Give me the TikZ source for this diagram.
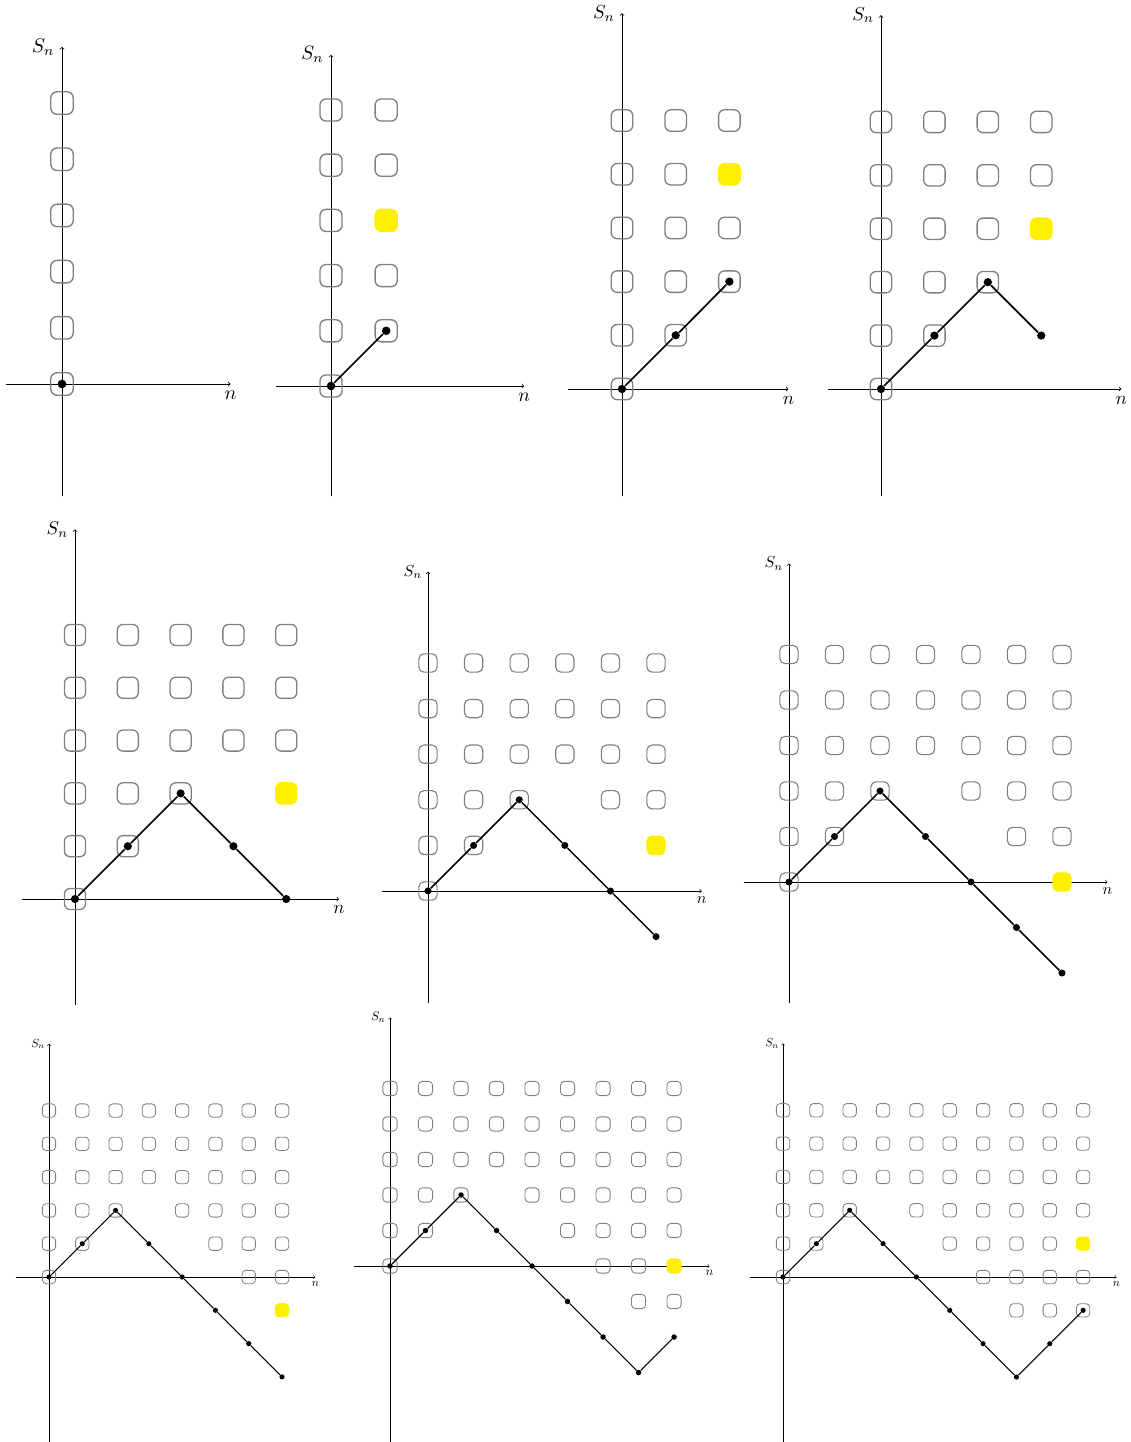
\documentclass[tikz,border=0pt]{standalone}
\definecolor{ylw}{RGB}{255,240,0}
\tikzset{
  axisline/.style={->, line width=0.4pt*\f},
  gbox/.style={draw=gray, rounded corners=1.1mm*\f, minimum size=0.4cm, inner sep=0pt, line width=0.7pt*\f},
  ybox/.style={fill=ylw, draw=ylw, rounded corners=1.1mm*\f, minimum size=0.4cm, inner sep=0pt, line width=0.7pt*\f},
  dot/.style={circle, fill=black, minimum size=4.4pt, inner sep=0pt},
  walkline/.style={line width=0.9pt*\f},
  panel/.style={transform shape}
}
\newcommand{\bcol}[3]{\foreach \h in {#3} {\node[gbox] (#1-#2-\h) at (#2,\h) {};}}
\newcommand{\ybx}[3]{\node[ybox] (#1-y) at (#2,#3) {};}
\newcommand{\walkdots}[2]{\foreach \h [count=\i from 0] in {#2} {\node[dot] (#1d\i) at (\i,\h) {};}}
\newcommand{\axes}[5]{%
  \draw[axisline] (-1,0) -- (#2,0) node[below] (#1n) {$n$};
  \draw[axisline] (0,#3) -- (0,#4) node[left] (#1s) {$S_n$};}
\begin{document}
\begin{tikzpicture}
\useasboundingbox (0,0) rectangle (1131pt,-1442pt);

% Panel 1
\def\f{1.975}
\begin{scope}[shift={(62pt,-384pt)}, scale=\f, panel]
\axes{a}{3}{-2}{6}{}
\bcol{a}{0}{0,...,5}
\walkdots{a}{0}
\end{scope}

% Panel 2
\def\f{1.940}
\begin{scope}[shift={(331pt,-386pt)}, scale=\f, panel]
\axes{b}{3.5}{-2}{6}{}
\bcol{b}{0}{0,...,5}
\bcol{b}{1}{1,2,4,5}
\ybx{b}{1}{3}
\walkdots{b}{0,1}
\draw[walkline] (bd0) -- (bd1);
\end{scope}

% Panel 3
\def\f{1.887}
\begin{scope}[shift={(622pt,-389pt)}, scale=\f, panel]
\axes{c}{3.1}{-2}{7}{}
\bcol{c}{0}{0,...,5}
\bcol{c}{1}{1,...,5}
\bcol{c}{2}{2,3,5}
\ybx{c}{2}{4}
\walkdots{c}{0,1,2}
\draw[walkline] (cd0) -- (cd1) -- (cd2);
\end{scope}

% Panel 4
\def\f{1.877}
\begin{scope}[shift={(881pt,-389pt)}, scale=\f, panel]
\axes{d}{4.5}{-2}{7}{}
\bcol{d}{0}{0,...,5}
\bcol{d}{1}{1,...,5}
\bcol{d}{2}{2,...,5}
\bcol{d}{3}{4,5}
\ybx{d}{3}{3}
\walkdots{d}{0,1,2,1}
\draw[walkline] (dd0) -- (dd1) -- (dd2) -- (dd3);
\end{scope}

% Panel 5
\def\f{1.856}
\begin{scope}[shift={(75pt,-899pt)}, scale=\f, panel]
\axes{e}{5}{-2}{7}{}
\bcol{e}{0}{0,...,5}
\bcol{e}{1}{1,...,5}
\bcol{e}{2}{2,...,5}
\bcol{e}{3}{3,4,5}
\bcol{e}{4}{3,4,5}
\ybx{e}{4}{2}
\walkdots{e}{0,1,2,1,0}
\draw[walkline] (ed0) -- (ed1) -- (ed2) -- (ed3) -- (ed4);
\end{scope}

% Panel 6
\def\f{1.603}
\begin{scope}[shift={(428pt,-891pt)}, scale=\f, panel]
\axes{g}{6}{-2.46}{7}{}
\bcol{g}{0}{0,...,5}
\bcol{g}{1}{1,...,5}
\bcol{g}{2}{2,...,5}
\bcol{g}{3}{3,4,5}
\bcol{g}{4}{2,...,5}
\bcol{g}{5}{2,...,5}
\ybx{g}{5}{1}
\walkdots{g}{0,1,2,1,0,-1}
\draw[walkline] (gd0) -- (gd1) -- (gd2) -- (gd3) -- (gd4) -- (gd5);
\end{scope}

% Panel 7
\def\f{1.599}
\begin{scope}[shift={(789pt,-882pt)}, scale=\f, panel]
\axes{h}{7}{-2.65}{7}{}
\bcol{h}{0}{0,...,5}
\bcol{h}{1}{1,...,5}
\bcol{h}{2}{2,...,5}
\bcol{h}{3}{3,4,5}
\bcol{h}{4}{2,...,5}
\bcol{h}{5}{1,...,5}
\bcol{h}{6}{1,...,5}
\ybx{h}{6}{0}
\walkdots{h}{0,1,2,1,0,-1,-2}
\draw[walkline] (hd0) -- (hd1) -- (hd2) -- (hd3) -- (hd4) -- (hd5) -- (hd6);
\end{scope}

% Panel 8
\def\f{1.170}
\begin{scope}[shift={(49pt,-1277pt)}, scale=\f, panel]
\axes{k}{8}{-5}{7}{}
\bcol{k}{0}{0,...,5}
\bcol{k}{1}{1,...,5}
\bcol{k}{2}{2,...,5}
\bcol{k}{3}{3,4,5}
\bcol{k}{4}{2,...,5}
\bcol{k}{5}{1,...,5}
\bcol{k}{6}{0,...,5}
\bcol{k}{7}{0,...,5}
\ybx{k}{7}{-1}
\walkdots{k}{0,1,2,1,0,-1,-2,-3}
\draw[walkline] (kd0) -- (kd1) -- (kd2) -- (kd3) -- (kd4) -- (kd5) -- (kd6) -- (kd7);
\end{scope}

% Panel 9
\def\f{1.248}
\begin{scope}[shift={(390pt,-1266pt)}, scale=\f, panel]
\axes{m}{9}{-5}{7}{}
\bcol{m}{0}{0,...,5}
\bcol{m}{1}{1,...,5}
\bcol{m}{2}{2,...,5}
\bcol{m}{3}{3,4,5}
\bcol{m}{4}{2,...,5}
\bcol{m}{5}{1,...,5}
\bcol{m}{6}{0,...,5}
\bcol{m}{7}{-1,...,5}
\bcol{m}{8}{-1,1,2,3,4,5}
\ybx{m}{8}{0}
\walkdots{m}{0,1,2,1,0,-1,-2,-3,-2}
\draw[walkline] (md0) -- (md1) -- (md2) -- (md3) -- (md4) -- (md5) -- (md6) -- (md7) -- (md8);
\end{scope}

% Panel 10
\def\f{1.172}
\begin{scope}[shift={(783pt,-1277pt)}, scale=\f, panel]
\axes{r}{10}{-5}{7}{}
\bcol{r}{0}{0,...,5}
\bcol{r}{1}{1,...,5}
\bcol{r}{2}{2,...,5}
\bcol{r}{3}{3,4,5}
\bcol{r}{4}{2,...,5}
\bcol{r}{5}{1,...,5}
\bcol{r}{6}{0,...,5}
\bcol{r}{7}{-1,...,5}
\bcol{r}{8}{-1,...,5}
\bcol{r}{9}{-1,0,2,3,4,5}
\ybx{r}{9}{1}
\walkdots{r}{0,1,2,1,0,-1,-2,-3,-2,-1}
\draw[walkline] (rd0) -- (rd1) -- (rd2) -- (rd3) -- (rd4) -- (rd5) -- (rd6) -- (rd7) -- (rd8) -- (rd9);
\end{scope}
\end{tikzpicture}
\end{document}
